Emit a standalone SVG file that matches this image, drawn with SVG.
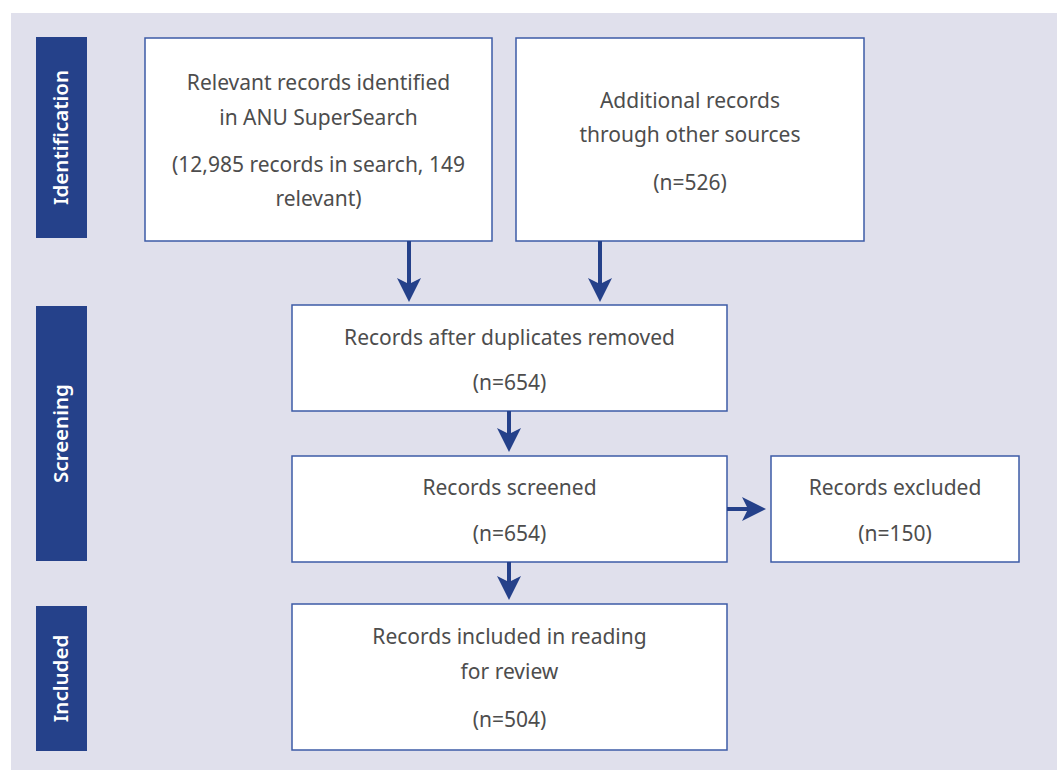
<svg xmlns="http://www.w3.org/2000/svg" width="1057" height="770" viewBox="0 0 1057 770">
<defs>
<style>
.bg{fill:#e0e0ec}
.phase{fill:#25418a}
.ptxt{fill:#ffffff;font-family:"Noto Sans","Open Sans",sans-serif;font-size:20.5px;font-weight:600;text-anchor:middle}
.box{fill:#ffffff;stroke:#3d5ba6;stroke-width:1.5}
.t{fill:#4d4d4d;font-family:"Noto Sans","Open Sans",sans-serif;font-size:21px;text-anchor:middle}
.c{stroke:#25418a;stroke-width:4;fill:none}
</style>
<marker id="ah" markerWidth="6" markerHeight="6" refX="5" refY="3" orient="auto" markerUnits="strokeWidth" viewBox="0 0 6 6">
<path d="M0,0 L6,3 L0,6 L1.5,3 Z" fill="#25418a"/>
</marker>
</defs>
<rect class="bg" x="11" y="13" width="1046" height="757"/>
<g id="phase-identification">
<rect class="phase" x="36" y="37" width="51" height="201"/>
<text class="ptxt" transform="translate(68,137.5) rotate(-90)">Identification</text>
</g>
<g id="phase-screening">
<rect class="phase" x="36" y="306" width="51" height="255"/>
<text class="ptxt" transform="translate(68,433.5) rotate(-90)">Screening</text>
</g>
<g id="phase-included">
<rect class="phase" x="36" y="606" width="51" height="145"/>
<text class="ptxt" transform="translate(68,678.5) rotate(-90)">Included</text>
</g>
<g id="box-anu">
<rect class="box" x="145" y="38" width="347" height="203"/>
<text class="t" x="318.5" y="90">Relevant records identified</text>
<text class="t" x="318.5" y="125">in ANU SuperSearch</text>
<text class="t" x="318.5" y="172">(12,985 records in search, 149</text>
<text class="t" x="318.5" y="206">relevant)</text>
</g>
<g id="box-additional">
<rect class="box" x="516" y="38" width="348" height="203"/>
<text class="t" x="690" y="108">Additional records</text>
<text class="t" x="690" y="142">through other sources</text>
<text class="t" x="690" y="190">(n=526)</text>
</g>
<g id="box-duplicates">
<rect class="box" x="292" y="305" width="435" height="106"/>
<text class="t" x="509.5" y="345">Records after duplicates removed</text>
<text class="t" x="509.5" y="390">(n=654)</text>
</g>
<g id="box-screened">
<rect class="box" x="292" y="456" width="435" height="106"/>
<text class="t" x="509.5" y="495">Records screened</text>
<text class="t" x="509.5" y="541">(n=654)</text>
</g>
<g id="box-excluded">
<rect class="box" x="771" y="456" width="248" height="106"/>
<text class="t" x="895" y="495">Records excluded</text>
<text class="t" x="895" y="541">(n=150)</text>
</g>
<g id="box-included">
<rect class="box" x="292" y="604" width="435" height="146"/>
<text class="t" x="509.5" y="644">Records included in reading</text>
<text class="t" x="509.5" y="679">for review</text>
<text class="t" x="509.5" y="727">(n=504)</text>
</g>
<g id="connectors">
<line class="c" x1="409" y1="241" x2="409" y2="298" marker-end="url(#ah)"/>
<line class="c" x1="600" y1="241" x2="600" y2="298" marker-end="url(#ah)"/>
<line class="c" x1="509" y1="411" x2="509" y2="448" marker-end="url(#ah)"/>
<line class="c" x1="509" y1="562" x2="509" y2="596" marker-end="url(#ah)"/>
<line class="c" x1="727" y1="509" x2="762" y2="509" marker-end="url(#ah)"/>
</g>
</svg>
